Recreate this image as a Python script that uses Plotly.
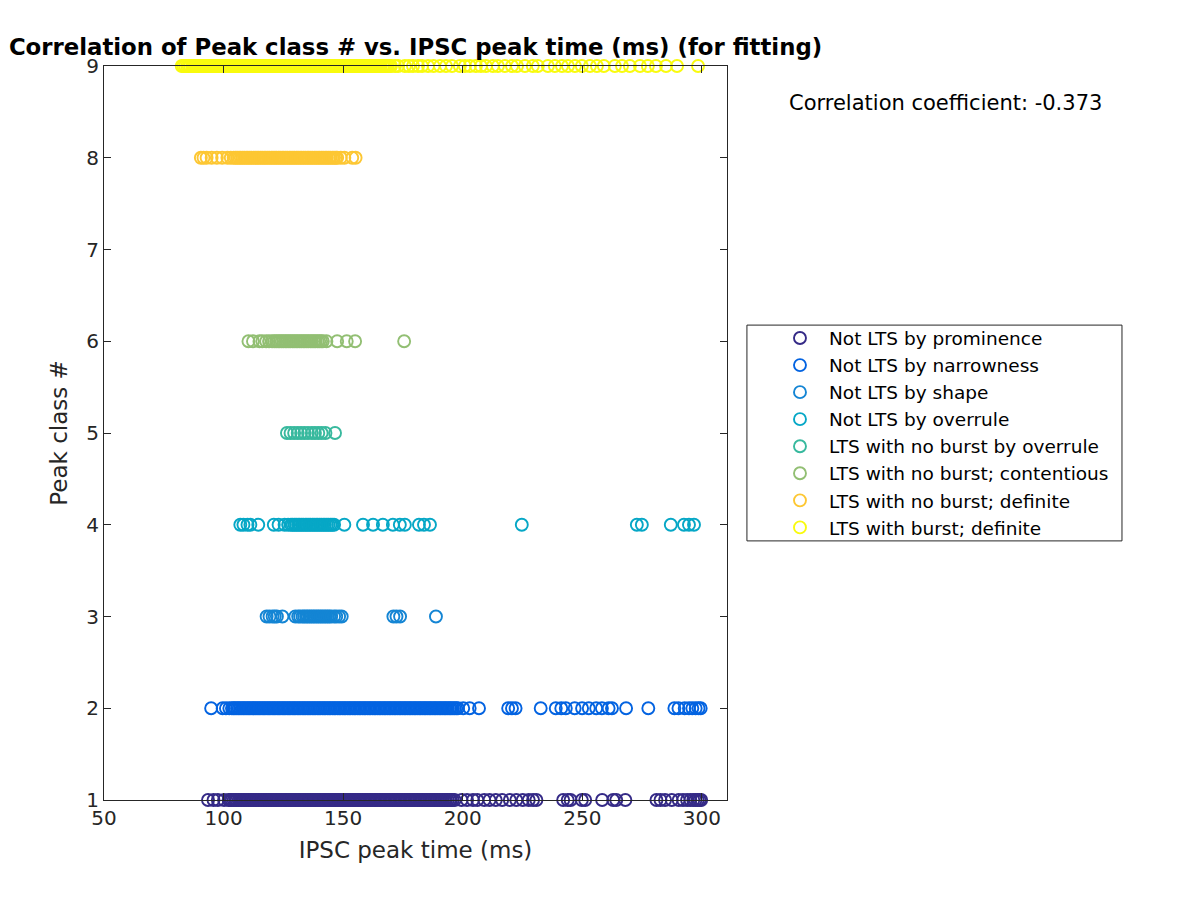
import plotly.graph_objects as go

# IPSC peak times (ms) for each peak class
class1_times = [93.5, 95.8, 97.6, 100.2,
    102.1, 102.8, 103.4, 104.2, 104.9, 105.5, 106.3, 106.9, 107.6, 108.4, 109.0, 109.7, 110.5, 111.1,
    111.8, 112.6, 113.2, 113.9, 114.7, 115.3, 116.0, 116.8, 117.4, 118.1, 118.9, 119.5, 120.2, 121.0,
    121.6, 122.3, 123.1, 123.7, 124.4, 125.2, 125.8, 126.5, 127.3, 127.9, 128.6, 129.4, 130.0, 130.7,
    131.5, 132.1, 132.8, 133.6, 134.2, 134.9, 135.7, 136.3, 137.0, 137.8, 138.4, 139.1, 139.9, 140.5,
    141.2, 142.0, 142.6, 143.3, 144.1, 144.7, 145.4, 146.2, 146.8, 147.5, 148.3, 148.9, 149.6, 150.4,
    151.0, 151.7, 152.5, 153.1, 153.8, 154.6, 155.2, 155.9, 156.7, 157.3, 158.0, 158.8, 159.4, 160.1,
    160.9, 161.5, 162.2, 163.0, 163.6, 164.3, 165.1, 165.7, 166.4, 167.2, 167.8, 168.5, 169.3, 169.9,
    170.6, 171.4, 172.0, 172.7, 173.5, 174.1, 174.8, 175.6, 176.2, 176.9, 177.7, 178.3, 179.0, 179.8,
    180.4, 181.1, 181.9, 182.5, 183.2, 184.0, 184.6, 185.3, 186.1, 186.7, 187.4, 188.2, 188.8, 189.5,
    190.3, 190.9, 191.6, 192.4, 193.0, 193.7, 194.5, 195.1, 195.8, 196.6,
    199.5, 201.8, 204.3, 206.1, 209.0, 211.2, 213.8, 216.5, 219.7, 222.4, 225.1, 227.6, 229.4, 230.8,
    242.0, 243.9, 245.1, 249.8, 251.2, 258.3, 262.9, 264.2, 268.0,
    281.0, 282.7, 284.6, 287.4, 290.3, 292.1, 293.8, 295.2, 296.4, 297.3, 298.2, 299.0, 299.7]

class2_times = [94.8, 99.6, 101.0, 102.4,
    103.5, 104.2, 104.8, 105.6, 106.3, 106.9, 107.7, 108.4, 109.0, 109.8, 110.5, 111.1, 111.9, 112.6,
    113.2, 114.0, 114.7, 115.3, 116.1, 116.8, 117.4, 118.2, 118.9, 119.5, 120.3, 121.0, 121.6, 122.4,
    123.1, 123.7, 124.5, 125.2, 125.8, 126.6, 127.3, 127.9, 128.7, 129.4, 130.0, 130.8, 131.5, 132.1,
    132.9, 133.6, 134.2, 135.0, 135.7, 136.3, 137.1, 137.8, 138.4, 139.2, 139.9, 140.5, 141.3, 142.0,
    142.6, 143.4, 144.1, 144.7, 145.5, 146.2, 146.8, 147.6, 148.3, 148.9, 149.7, 150.4, 151.0, 151.8,
    152.5, 153.1, 153.9, 154.6, 155.2, 156.0, 156.7, 157.3, 158.1, 158.8, 159.4, 160.2, 160.9, 161.5,
    162.3, 163.0, 163.6, 164.4, 165.1, 165.7, 166.5, 167.2, 167.8, 168.6, 169.3, 169.9, 170.7, 171.4,
    172.0, 172.8, 173.5, 174.1, 174.9, 175.6, 176.2, 177.0, 177.7, 178.3, 179.1, 179.8, 180.4, 181.2,
    181.9, 182.5, 183.3, 184.0, 184.6, 185.4, 186.1, 186.7, 187.5, 188.2, 188.8, 189.6, 190.3, 190.9,
    191.7, 192.4, 193.0, 193.8, 194.5, 195.1, 195.9, 196.6, 197.3, 198.0,
    200.2, 202.9, 206.8, 219.0, 220.6, 222.1, 232.6, 238.9, 241.2, 243.1, 246.8, 249.9, 252.7, 255.8,
    258.2, 261.0, 262.4, 268.3, 277.6, 288.5, 290.2, 292.8, 294.6, 296.0, 297.4, 298.6, 299.5]

class3_times = [118.0, 119.2, 120.5, 121.4, 122.3, 124.6, 130.0, 131.2, 132.0,
    133.0, 133.7, 134.5, 135.2, 136.0, 136.7, 137.5, 138.2, 139.0, 139.7, 140.5, 141.2, 142.0, 142.7,
    143.5, 144.2, 145.0, 146.2, 147.1, 148.3, 149.4, 171.0, 172.3, 173.8, 188.8]

class4_times = [107.0, 108.3, 110.0, 111.2, 114.5, 121.0, 123.0, 125.5, 127.0,
    128.2, 128.9, 129.7, 130.4, 131.2, 131.9, 132.7, 133.4, 134.2, 134.9, 135.7, 136.4, 137.2, 137.9,
    138.7, 139.4, 140.2, 140.9, 141.7, 142.4, 143.2, 143.9, 144.7, 145.4, 146.2,
    150.5, 158.3, 162.5, 166.6, 170.8, 173.7, 175.8, 181.7, 183.8, 186.3,
    224.7, 272.8, 274.9, 287.0, 292.5, 294.6, 296.7]

class5_times = [126.5, 128.0, 129.5, 131.0, 132.4, 133.8, 135.3, 136.9, 138.2, 139.6, 141.0, 142.6, 146.6]

class6_times = [110.4, 112.3, 115.0, 116.2, 117.8, 119.0, 120.3, 121.2,
    122.0, 122.8, 123.5, 124.3, 125.0, 125.8, 126.5, 127.3, 128.0, 128.8, 129.5, 130.3, 131.0, 131.8,
    132.5, 133.3, 134.0, 134.8, 135.5, 136.3, 137.0, 137.8, 138.5, 139.3, 140.0, 140.8, 141.5,
    143.0, 147.5, 151.5, 155.0, 175.5]

class8_times = [90.5, 91.6, 92.9, 95.0, 97.2, 99.4, 101.6, 103.0, 104.2,
    105.0, 105.7, 106.5, 107.2, 108.0, 108.7, 109.5, 110.2, 111.0, 111.7, 112.5, 113.2, 114.0, 114.7,
    115.5, 116.2, 117.0, 117.7, 118.5, 119.2, 120.0, 120.7, 121.5, 122.2, 123.0, 123.7, 124.5, 125.2,
    126.0, 126.7, 127.5, 128.2, 129.0, 129.7, 130.5, 131.2, 132.0, 132.7, 133.5, 134.2, 135.0, 135.7,
    136.5, 137.2, 138.0, 138.7, 139.5, 140.2, 141.0, 141.7, 142.5, 143.2, 144.0, 144.7, 145.5, 146.2,
    147.0, 147.5, 149.0, 150.5, 153.8, 155.2]

class9_times = [82.5, 83.2, 83.9, 84.7, 85.4, 86.0, 86.8, 87.5, 88.1, 88.9, 89.6, 90.2, 91.0, 91.7,
    92.3, 93.1, 93.8, 94.4, 95.2, 95.9, 96.5, 97.3, 98.0, 98.6, 99.4, 100.1, 100.7, 101.5, 102.2,
    102.8, 103.6, 104.3, 104.9, 105.7, 106.4, 107.0, 107.8, 108.5, 109.1, 109.9, 110.6, 111.2, 112.0,
    112.7, 113.3, 114.1, 114.8, 115.4, 116.2, 116.9, 117.5, 118.3, 119.0, 119.6, 120.4, 121.1, 121.7,
    122.5, 123.2, 123.8, 124.6, 125.3, 125.9, 126.7, 127.4, 128.0, 128.8, 129.5, 130.1, 130.9, 131.6,
    132.2, 133.0, 133.7, 134.3, 135.1, 135.8, 136.4, 137.2, 137.9, 138.5, 139.3, 140.0, 140.6, 141.4,
    142.1, 142.7, 143.5, 144.2, 144.8, 145.6, 146.3, 146.9, 147.7, 148.4, 149.0, 149.8, 150.5, 151.1,
    151.9, 152.6, 153.2, 154.0, 154.7, 155.3, 156.1, 156.8, 157.4, 158.2, 158.9, 159.5, 160.3, 161.0,
    161.6, 162.4, 163.1, 163.7, 164.5, 165.2, 165.8, 166.6, 167.3, 167.9, 168.7, 169.4, 170.0,
    171.7, 173.0, 175.8, 177.5, 179.2, 181.3, 183.0, 185.5, 187.8, 190.5, 193.0, 195.5, 198.8, 200.9,
    203.0, 205.5, 207.6, 209.7, 212.6, 214.7, 217.6, 220.6, 222.7, 226.0, 229.3, 231.4, 235.6, 238.5,
    241.5, 244.0, 246.9, 249.8, 253.2, 256.1, 259.0, 263.6, 266.6, 269.9, 274.1, 277.4, 280.8, 285.0,
    289.6, 298.4]

class_numbers = [1, 2, 3, 4, 5, 6, 8, 9]
class_labels = ["Not LTS by prominence", "Not LTS by narrowness", "Not LTS by shape",
                "Not LTS by overrule", "LTS with no burst by overrule",
                "LTS with no burst; contentious", "LTS with no burst; definite",
                "LTS with burst; definite"]
class_colors = ["#352A87", "#0363E1", "#1485D4", "#06A7C6", "#38B99E", "#92BF73", "#FDC733", "#F9FB0E"]
all_times = [class1_times, class2_times, class3_times, class4_times,
             class5_times, class6_times, class8_times, class9_times]

corr_text = "Correlation coefficient: -0.373"
xticks = [50, 100, 150, 200, 250, 300]
yticks = [1, 2, 3, 4, 5, 6, 7, 8, 9]

fig = go.Figure()
for num, label, color, times in zip(class_numbers, class_labels, class_colors, all_times):
    fig.add_trace(go.Scatter(
        x=times, y=[num] * len(times), mode="markers", name=label,
        cliponaxis=False,
        marker=dict(symbol="circle-open", size=12, color=color, line=dict(width=1.9, color=color)),
    ))

axis_style = dict(showgrid=False, zeroline=False, showline=True, linecolor="#262626", linewidth=1,
                  mirror="ticks", ticks="inside", ticklen=7, tickcolor="#262626",
                  tickfont=dict(size=20, color="#262626"))

# the page body adds an 8px offset, so the figure is a little smaller than the window
fig.update_layout(
    width=1192, height=892,
    margin=dict(l=96, r=473, t=58, b=100),
    paper_bgcolor="white", plot_bgcolor="white",
    font=dict(family="DejaVu Sans", color="#262626"),
    title=dict(text="<b>Correlation of Peak class # vs. IPSC peak time (ms) (for fitting)</b>",
               x=0.5, xref="paper", xanchor="center", y=1 - 39 / 892, yanchor="middle",
               font=dict(size=22.8, color="black")),
    xaxis=dict(range=[50, 310.5], tickvals=xticks,
               title=dict(text="IPSC peak time (ms)", font=dict(size=23), standoff=12), **axis_style),
    yaxis=dict(range=[1, 9], tickvals=yticks,
               title=dict(text="Peak class #", font=dict(size=23), standoff=12), **axis_style),
    showlegend=True,
    legend=dict(x=1.0706, y=0.5, xanchor="left", yanchor="middle", bgcolor="rgba(0,0,0,0)",
                borderwidth=0, font=dict(size=18.5, color="black"), itemwidth=48),
    shapes=[dict(type="rect", xref="paper", yref="paper", x0=1.032, x1=1.634, y0=0.353, y1=0.647,
                 line=dict(color="#262626", width=1), fillcolor="rgba(0,0,0,0)")],
    annotations=[dict(text=corr_text, xref="paper", yref="paper", x=1.35, y=0.9496,
                      xanchor="center", yanchor="middle", showarrow=False,
                      font=dict(size=21, color="black"))],
)

fig.write_html("out.html")
